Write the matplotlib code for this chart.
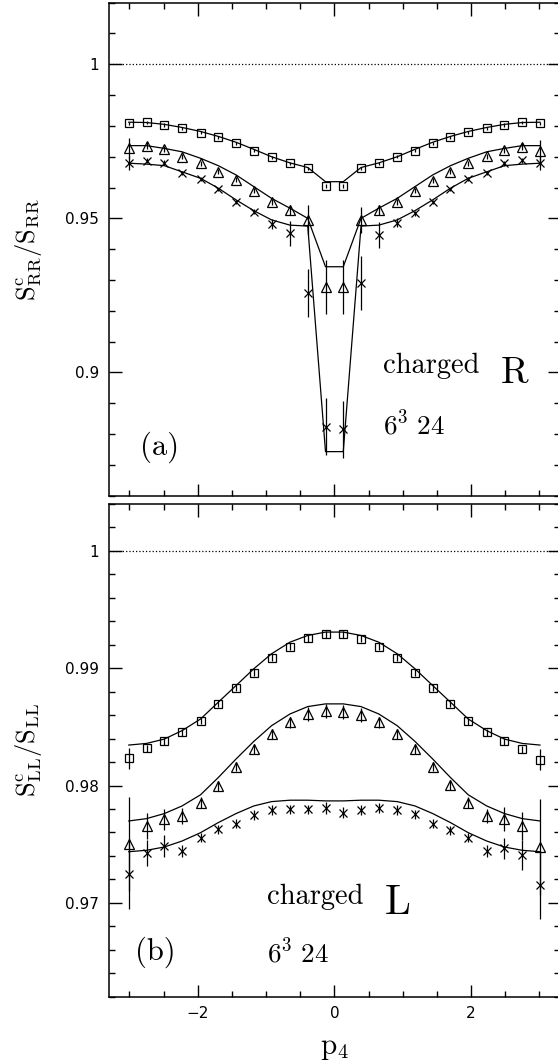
import numpy as np
import matplotlib
matplotlib.use('Agg')
import matplotlib.pyplot as plt
from matplotlib.ticker import MultipleLocator, FormatStrFormatter

plt.rcParams['mathtext.fontset'] = 'cm'
plt.rcParams['font.family'] = 'DejaVu Sans'

# lattice momenta p4 (24 points)
p4 = [-3.01, -2.75, -2.49, -2.23, -1.96, -1.70, -1.44, -1.18, -0.92, -0.65, -0.39, -0.13,
      0.13, 0.39, 0.65, 0.92, 1.18, 1.44, 1.70, 1.96, 2.23, 2.49, 2.75, 3.01]

# (a) S^c_RR / S_RR
rr_sq = [0.9809, 0.9812, 0.9803, 0.9792, 0.9778, 0.9763, 0.9744, 0.9719, 0.9698, 0.9679, 0.9663, 0.9605,
         0.9605, 0.9662, 0.9679, 0.9700, 0.9719, 0.9744, 0.9763, 0.9779, 0.9792, 0.9803, 0.9812, 0.9809]
rr_sq_err = [0.0005] * 24
rr_sq_fit = [0.9812, 0.9811, 0.9805, 0.9795, 0.9782, 0.9766, 0.9747, 0.9724, 0.9700, 0.9680, 0.9665, 0.9619,
             0.9619, 0.9665, 0.9680, 0.9700, 0.9724, 0.9747, 0.9766, 0.9782, 0.9795, 0.9805, 0.9811, 0.9812]

rr_tri = [0.9727, 0.9736, 0.9724, 0.9700, 0.9679, 0.9651, 0.9625, 0.9590, 0.9554, 0.9527, 0.9495, 0.9278,
          0.9278, 0.9495, 0.9527, 0.9554, 0.9590, 0.9622, 0.9651, 0.9679, 0.9702, 0.9722, 0.9733, 0.9720]
rr_tri_err = [0.0033, 0.0012, 0.0010, 0.0008, 0.0008, 0.0008, 0.0008, 0.0008, 0.0010, 0.0015, 0.0049, 0.0087,
              0.0087, 0.0042, 0.0015, 0.0010, 0.0008, 0.0008, 0.0008, 0.0008, 0.0008, 0.0010, 0.0012, 0.0033]
rr_tri_fit = [0.9736, 0.9736, 0.9727, 0.9716, 0.9695, 0.9671, 0.9641, 0.9603, 0.9565, 0.9533, 0.9500, 0.9343,
              0.9343, 0.9500, 0.9533, 0.9565, 0.9603, 0.9641, 0.9671, 0.9695, 0.9716, 0.9727, 0.9736, 0.9736]

rr_x = [0.9679, 0.9687, 0.9681, 0.9648, 0.9627, 0.9594, 0.9554, 0.9522, 0.9482, 0.9452, 0.9259, 0.8824,
        0.8815, 0.9291, 0.9446, 0.9486, 0.9516, 0.9554, 0.9594, 0.9627, 0.9648, 0.9679, 0.9689, 0.9679]
rr_x_err = [0.0023, 0.0008, 0.0008, 0.0006, 0.0006, 0.0006, 0.0006, 0.0008, 0.0015, 0.0041, 0.0078, 0.0092,
            0.0092, 0.0088, 0.0043, 0.0015, 0.0008, 0.0006, 0.0006, 0.0006, 0.0006, 0.0008, 0.0008, 0.0023]
rr_x_fit = [0.9679, 0.9676, 0.9671, 0.9651, 0.9630, 0.9598, 0.9560, 0.9525, 0.9495, 0.9478, 0.9475, 0.8743,
            0.8743, 0.9475, 0.9478, 0.9495, 0.9525, 0.9560, 0.9598, 0.9630, 0.9651, 0.9671, 0.9676, 0.9679]

# (b) S^c_LL / S_LL
ll_sq = [0.98234, 0.98316, 0.98376, 0.98453, 0.98553, 0.98696, 0.98832, 0.98961, 0.99089, 0.99185, 0.99256, 0.99288,
         0.99288, 0.99251, 0.99185, 0.99089, 0.98961, 0.98832, 0.98696, 0.98547, 0.98453, 0.98376, 0.98311, 0.98220]
ll_sq_err = [0.0009] + [0.0003] * 22 + [0.0009]
ll_sq_fit = [0.98345, 0.98359, 0.98396, 0.98468, 0.98567, 0.98710, 0.98852, 0.98995, 0.99123, 0.99222, 0.99279, 0.99308,
             0.99308, 0.99279, 0.99222, 0.99123, 0.98995, 0.98852, 0.98710, 0.98567, 0.98468, 0.98396, 0.98359, 0.98345]

ll_tri = [0.97499, 0.97656, 0.97713, 0.97741, 0.97855, 0.97997, 0.98160, 0.98311, 0.98439, 0.98538, 0.98610, 0.98632,
          0.98624, 0.98604, 0.98538, 0.98439, 0.98311, 0.98160, 0.98003, 0.97855, 0.97741, 0.97713, 0.97656, 0.97476]
ll_tri_err = [0.0040, 0.0011, 0.0009, 0.0007, 0.0005, 0.0004, 0.0004, 0.0004, 0.0004, 0.0005, 0.0006, 0.0006,
              0.0006, 0.0006, 0.0005, 0.0004, 0.0004, 0.0004, 0.0004, 0.0005, 0.0006, 0.0010, 0.0012, 0.0041]
ll_tri_fit = [0.97698, 0.97718, 0.97761, 0.97826, 0.97921, 0.98068, 0.98226, 0.98376, 0.98510, 0.98610, 0.98673, 0.98696,
              0.98696, 0.98673, 0.98610, 0.98510, 0.98376, 0.98226, 0.98068, 0.97921, 0.97826, 0.97761, 0.97718, 0.97698]

ll_x = [0.97248, 0.97427, 0.97485, 0.97442, 0.97556, 0.97627, 0.97675, 0.97750, 0.97790, 0.97798, 0.97798, 0.97807,
        0.97769, 0.97790, 0.97807, 0.97790, 0.97755, 0.97675, 0.97618, 0.97556, 0.97442, 0.97465, 0.97408, 0.97151]
ll_x_err = [0.0030, 0.0011, 0.0009, 0.0005, 0.0004, 0.0004, 0.0004, 0.0004, 0.0004, 0.0004, 0.0004, 0.0005,
            0.0005, 0.0004, 0.0004, 0.0004, 0.0004, 0.0004, 0.0004, 0.0004, 0.0005, 0.0009, 0.0013, 0.0029]
ll_x_fit = [0.97436, 0.97448, 0.97476, 0.97527, 0.97598, 0.97684, 0.97761, 0.97826, 0.97863, 0.97875, 0.97875, 0.97869,
            0.97869, 0.97875, 0.97875, 0.97863, 0.97826, 0.97761, 0.97684, 0.97598, 0.97527, 0.97476, 0.97448, 0.97436]


def draw_panel(ax, sets, ylim, major, minor):
    for vals, err, fit, mk, ms in sets:
        ax.plot(p4, fit, 'k-', lw=0.9)
        ax.errorbar(p4, vals, yerr=err, fmt=mk, ms=ms, mfc='none', mec='k', mew=0.9,
                    ecolor='k', elinewidth=0.9, capsize=0)
    ax.axhline(1.0, color='k', ls=':', lw=0.9)
    ax.set_xlim(-3.3, 3.3)
    ax.set_ylim(*ylim)
    ax.xaxis.set_major_locator(MultipleLocator(2))
    ax.xaxis.set_minor_locator(MultipleLocator(0.5))
    ax.yaxis.set_major_locator(MultipleLocator(major))
    ax.yaxis.set_minor_locator(MultipleLocator(minor))
    ax.yaxis.set_major_formatter(FormatStrFormatter('%g'))
    ax.tick_params(which='both', direction='in', top=True, right=True, width=1.0, labelsize=11, pad=7)
    ax.tick_params(which='major', length=9)
    ax.tick_params(which='minor', length=4.5)
    for s in ax.spines.values():
        s.set_linewidth(1.1)


fig = plt.figure(figsize=(5.58, 10.61), dpi=100)
ax1 = fig.add_axes([0.1953, 0.5328, 0.8079, 0.4647])
ax2 = fig.add_axes([0.1953, 0.0606, 0.8079, 0.4644])

draw_panel(ax1, [(rr_sq, rr_sq_err, rr_sq_fit, 's', 5.5),
                 (rr_tri, rr_tri_err, rr_tri_fit, '^', 7.8),
                 (rr_x, rr_x_err, rr_x_fit, 'x', 6)],
           (0.86, 1.02), 0.05, 0.01)
draw_panel(ax2, [(ll_sq, ll_sq_err, ll_sq_fit, 's', 5.5),
                 (ll_tri, ll_tri_err, ll_tri_fit, '^', 7.8),
                 (ll_x, ll_x_err, ll_x_fit, 'x', 6)],
           (0.962, 1.004), 0.01, 0.002)
ax1.tick_params(labelbottom=False)

ax1.set_ylabel(r'$\mathrm{S^c_{RR}/S_{RR}}$', fontsize=19)
ax2.set_ylabel(r'$\mathrm{S^c_{LL}/S_{LL}}$', fontsize=19)
ax1.yaxis.set_label_coords(-0.145, 0.5)
ax2.yaxis.set_label_coords(-0.145, 0.5)
ax2.set_xlabel(r'$\mathrm{p}_4$', fontsize=21)
ax2.xaxis.set_label_coords(0.5, -0.075)

cm = dict(fontfamily='cmr10', ha='left', va='baseline')
ax1.text(0.71, 0.8999, 'charged', fontsize=20.5, **cm)
ax1.text(2.43, 0.8965, 'R', fontsize=27, **cm)
ax1.text(0.71, 0.8797, r'$\mathrm{6^3\ 24}$', fontsize=19.5, ha='left', va='baseline')
ax1.text(-2.85, 0.8756, '(a)', fontsize=22, fontfamily='cmr10', ha='left', va='center')

ax2.text(-0.99, 0.96986, 'charged', fontsize=20.5, **cm)
ax2.text(0.74, 0.96901, 'L', fontsize=30, **cm)
ax2.text(-0.99, 0.96487, r'$\mathrm{6^3\ 24}$', fontsize=19.5, ha='left', va='baseline')
ax2.text(-2.92, 0.96581, '(b)', fontsize=22, fontfamily='cmr10', ha='left', va='center')

fig.savefig('out.png', dpi=100)
